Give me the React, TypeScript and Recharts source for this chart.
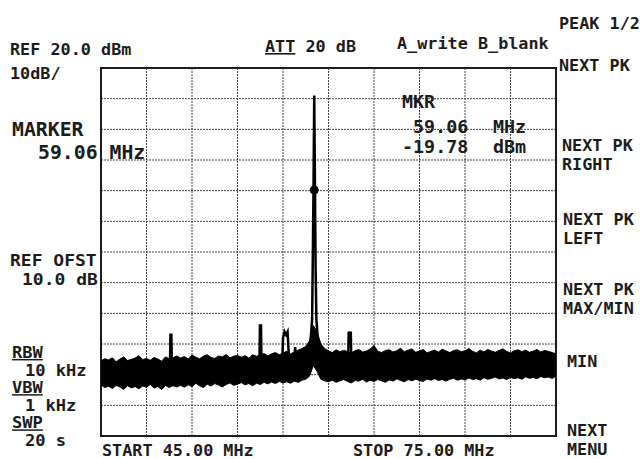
import React from 'react';
import {
  ComposedChart,
  Area,
  Line,
  XAxis,
  YAxis,
  CartesianGrid,
  ReferenceArea,
  ReferenceDot,
} from 'recharts';

const START_MHZ = 45;
const STOP_MHZ = 75;
const NOISE_STEP_MHZ = 0.25;

// grid: 10 divisions across, 12 divisions of 10 dB down from REF 20 dBm
const freqTicks = [45, 48, 51, 54, 57, 60, 63, 66, 69, 72, 75];
const levelTicks = [-100, -90, -80, -70, -60, -50, -40, -30, -20, -10, 0, 10, 20];

// noise floor envelope, one sample every 0.25 MHz from 45 to 75 MHz (dBm)
const noiseTop = [
  -75.5, -74.8, -75.2, -74.5, -75.8, -74.9, -74.2, -75.4, -75.0, -74.6,
  -73.8, -75.1, -74.7, -75.3, -74.4, -74.9, -75.6, -74.2, -74.8, -74.5,
  -73.9, -74.6, -74.1, -74.9, -73.6, -74.3, -74.8, -74.0, -73.5, -74.4,
  -74.7, -73.9, -74.2, -73.4, -74.5, -74.0, -73.7, -74.3, -73.8, -74.6,
  -73.5, -74.0, -73.6, -73.1, -73.9, -73.2, -72.8, -73.5, -72.9, -72.4,
  -73.2, -72.6, -72.0, -71.5, -70.8, -69.0, -64.0, -66.0, -70.0, -71.5,
  -72.3, -72.8, -71.9, -72.5, -72.1, -72.4, -72.9, -72.2, -71.8, -72.6,
  -72.3, -71.6, -70.5, -72.4, -72.8, -72.1, -71.9, -72.6, -72.2, -71.4,
  -72.5, -72.0, -71.6, -72.7, -72.3, -71.8, -72.9, -72.4, -72.0, -72.6,
  -71.7, -72.3, -72.8, -72.1, -71.9, -72.5, -72.2, -71.5, -72.4, -72.9,
  -72.0, -72.6, -71.8, -72.3, -72.7, -72.1, -71.6, -72.4, -72.9, -72.2,
  -71.9, -72.5, -72.0, -72.7, -72.3, -71.8, -72.6, -72.1, -72.4, -72.8,
  -73.2,
];

const noiseBottom = [
  -83.4, -84.2, -83.8, -84.5, -83.5, -84.0, -84.8, -83.6, -84.3, -83.9,
  -84.6, -83.7, -84.1, -83.2, -84.4, -83.8, -84.9, -83.5, -84.2, -83.6,
  -84.0, -83.5, -84.1, -83.3, -83.9, -82.8, -83.6, -84.2, -83.1, -83.7,
  -82.9, -83.4, -84.0, -83.2, -82.7, -83.5, -83.1, -82.6, -83.3, -82.9,
  -83.6, -82.8, -83.2, -82.5, -83.0, -82.4, -82.9, -82.2, -82.7, -82.3,
  -82.8, -82.1, -82.5, -81.8, -81.5, -80.5, -77.0, -79.0, -81.5, -82.0,
  -82.3, -81.8, -82.5, -82.0, -81.6, -82.2, -82.7, -81.9, -82.1, -81.5,
  -82.4, -81.8, -82.2, -81.6, -82.0, -82.5, -81.7, -82.1, -81.4, -81.9,
  -82.3, -81.6, -82.0, -81.5, -81.9, -82.2, -81.4, -81.8, -81.3, -81.9,
  -81.6, -82.1, -81.5, -81.2, -81.8, -81.4, -81.7, -81.1, -81.6, -81.3,
  -81.8, -81.0, -81.5, -81.2, -80.8, -81.4, -81.1, -81.6, -80.9, -81.3,
  -81.0, -81.5, -80.7, -81.2, -80.9, -81.3, -80.6, -81.0, -80.8, -81.2,
  -80.5,
];

// carrier and spurs, drawn over the noise band
const traceFreq = [
  45, 49.55, 49.58, 49.64, 49.67, 55.45, 55.48, 55.55, 55.58, 56.95,
  57.0, 57.1, 57.2, 57.3, 57.4, 57.75, 57.8, 57.85, 58.5, 58.8,
  58.92, 58.97, 59.01, 59.06, 59.11, 59.15, 59.2, 59.32, 59.6, 61.3,
  61.33, 61.4, 61.47, 61.5, 75,
];
const traceLevel = [
  -76, -76, -67, -67, -76, -76, -64, -64, -76, -76,
  -68, -66, -67, -66, -75, -75, -71, -75, -74, -70,
  -62, -40, -20, 11, -20, -45, -62, -70, -74, -75,
  -66, -67, -66, -75, -75,
];

const markerFreq = 59.06;
const markerLevel = -19.78;

const noiseData = noiseTop.map((top, i) => ({
  f: START_MHZ + i * NOISE_STEP_MHZ,
  band: [noiseBottom[i], top],
}));

const traceData = traceFreq.map((f, i) => ({ f, level: traceLevel[i] }));

const INK = '#1c1c1c';
const FONT = '"DejaVu Sans Mono", "Liberation Mono", monospace';

type Row = { text: string; indent?: number; underline?: boolean };

// one <text> per block, one <tspan> per screen line (gap in screen px)
const Block = ({
  x,
  y,
  rows,
  size = 15,
  sx = 1.12,
  sy = 1.08,
  gap = 19,
}: {
  x: number;
  y: number;
  rows: Row[];
  size?: number;
  sx?: number;
  sy?: number;
  gap?: number;
}) => (
  <text
    transform={`translate(${x},${y}) scale(${sx},${sy})`}
    fontFamily={FONT}
    fontWeight="bold"
    fontSize={size}
    fill={INK}
  >
    {rows.map((r, i) => (
      <tspan
        key={i}
        x={(r.indent ?? 0) / sx}
        y={(i * gap) / sy}
        textDecoration={r.underline ? 'underline' : undefined}
      >
        {r.text}
      </tspan>
    ))}
  </text>
);

export default function App() {
  return (
    <div style={{ position: 'absolute', left: 0, top: 0, background: '#fff' }}>
      <ComposedChart
        width={640}
        height={459}
        margin={{ top: 68, right: 84, bottom: 23, left: 101 }}
      >
        <XAxis
          type="number"
          dataKey="f"
          domain={[START_MHZ, STOP_MHZ]}
          ticks={freqTicks}
          allowDataOverflow
          hide
        />
        <YAxis type="number" domain={[-100, 20]} ticks={levelTicks} allowDataOverflow hide />
        <CartesianGrid stroke="#444" strokeDasharray="2 1" />
        <ReferenceArea
          x1={START_MHZ}
          x2={STOP_MHZ}
          y1={-100}
          y2={20}
          fill="none"
          fillOpacity={0}
          stroke={INK}
          strokeWidth={2}
          strokeOpacity={1}
        />
        <Area
          data={noiseData}
          dataKey="band"
          type="linear"
          stroke="#000"
          strokeWidth={1}
          fill="#000"
          fillOpacity={1}
          isAnimationActive={false}
        />
        <Line
          data={traceData}
          dataKey="level"
          type="linear"
          stroke="#000"
          strokeWidth={2.5}
          dot={false}
          isAnimationActive={false}
        />
        <ReferenceDot x={markerFreq} y={markerLevel} r={4} fill="#000" stroke="#000" />

        <Block x={10} y={55} gap={24} rows={[{ text: 'REF 20.0 dBm' }, { text: '10dB/' }]} />
        <text
          transform="translate(265,52) scale(1.12,1.08)"
          fontFamily={FONT}
          fontWeight="bold"
          fontSize={15}
          fill={INK}
        >
          <tspan textDecoration="underline">ATT</tspan> 20 dB
        </text>
        <Block x={397} y={49} rows={[{ text: 'A_write B_blank' }]} />

        <Block
          x={12}
          y={136}
          size={18}
          sx={1.1}
          gap={23}
          rows={[{ text: 'MARKER' }, { text: '59.06 MHz', indent: 26 }]}
        />
        <Block
          x={10}
          y={266}
          sx={1.2}
          rows={[{ text: 'REF OFST' }, { text: '10.0 dB', indent: 12 }]}
        />
        <Block
          x={12}
          y={358}
          size={14}
          sx={1.22}
          sy={1.07}
          gap={17.6}
          rows={[
            { text: 'RBW', underline: true },
            { text: '10 kHz', indent: 13 },
            { text: 'VBW', underline: true },
            { text: '1 kHz', indent: 13 },
            { text: 'SWP', underline: true },
            { text: '20 s', indent: 13 },
          ]}
        />

        <Block x={402} y={108} size={17} sx={1.08} rows={[{ text: 'MKR' }]} />
        <Block
          x={402}
          y={133}
          size={17}
          sx={1.08}
          gap={20}
          rows={[{ text: '59.06', indent: 11 }, { text: '-19.78' }]}
        />
        <Block
          x={493}
          y={133}
          size={17}
          sx={1.08}
          gap={20}
          rows={[{ text: 'MHz' }, { text: 'dBm' }]}
        />

        <Block x={559} y={29} gap={42} rows={[{ text: 'PEAK 1/2' }, { text: 'NEXT PK' }]} />
        <Block x={562} y={151} rows={[{ text: 'NEXT PK' }, { text: 'RIGHT' }]} />
        <Block x={563} y={225} rows={[{ text: 'NEXT PK' }, { text: 'LEFT' }]} />
        <Block x={563} y={295} rows={[{ text: 'NEXT PK' }, { text: 'MAX/MIN' }]} />
        <Block x={567} y={367} rows={[{ text: 'MIN' }]} />
        <Block x={567} y={436} rows={[{ text: 'NEXT' }, { text: 'MENU' }]} />

        <Block x={102} y={456} rows={[{ text: 'START 45.00 MHz' }]} />
        <Block x={353} y={456} rows={[{ text: 'STOP 75.00 MHz' }]} />
      </ComposedChart>
    </div>
  );
}
